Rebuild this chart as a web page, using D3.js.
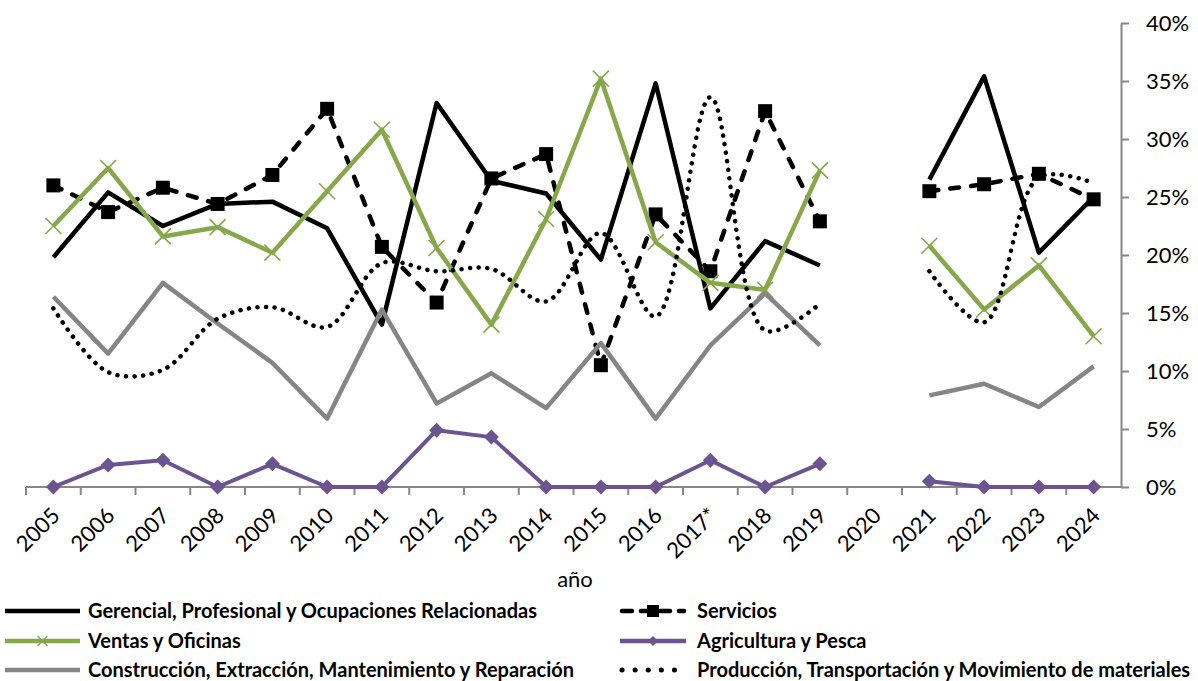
<!DOCTYPE html>
<html>
<head>
<meta charset="utf-8">
<script src="https://cdn.jsdelivr.net/npm/d3@7"></script>
<style>
  body { margin: 0; background: #fff; }
  text { font-family: Lato, "Open Sans", sans-serif; }
</style>
</head>
<body>
<div id="chart"></div>
<script>
// years on the x axis (2020 has no data)
const years = ['2005', '2006', '2007', '2008', '2009', '2010', '2011', '2012', '2013', '2014',
    '2015', '2016', '2017*', '2018', '2019', '2020', '2021', '2022', '2023', '2024'];

const yTicks = [0, 5, 10, 15, 20, 25, 30, 35, 40];

// percent values, null = no data
const gerencial = [19.8, 25.4, 22.5, 24.4, 24.6, 22.3, 14.0, 33.1, 26.4, 25.3,
    19.6, 34.8, 15.4, 21.2, 19.1, null, 26.5, 35.4, 20.2, 25.0];
const servicios = [26.0, 23.7, 25.8, 24.4, 26.9, 32.6, 20.7, 15.9, 26.6, 28.7,
    10.5, 23.5, 18.6, 32.4, 22.9, null, 25.5, 26.1, 27.0, 24.8];
const ventas = [22.5, 27.5, 21.6, 22.4, 20.2, 25.5, 30.8, 20.6, 14.0, 23.1,
    35.2, 21.1, 17.6, 17.0, 27.3, null, 20.8, 15.3, 19.1, 13.0];
const agricultura = [0, 1.9, 2.3, 0, 2.0, 0, 0, 4.9, 4.3, 0,
    0, 0, 2.3, 0, 2.0, null, 0.5, 0, 0, 0];
const construccion = [16.4, 11.5, 17.6, 14.1, 10.7, 5.9, 15.3, 7.2, 9.8, 6.8,
    12.4, 5.9, 12.2, 16.7, 12.2, null, 7.9, 8.9, 6.9, 10.4];
const produccion = [15.4, 9.9, 10.1, 14.5, 15.5, 13.8, 19.3, 18.6, 18.8, 16.0,
    21.9, 14.7, 33.6, 13.5, 15.8, null, 18.6, 14.2, 26.7, 26.2];

const series = [
    { name: 'Gerencial, Profesional y Ocupaciones Relacionadas', values: gerencial, color: '#000000', width: 4.5, dash: null, legendDash: null, marker: null, smooth: false },
    { name: 'Servicios', values: servicios, color: '#000000', width: 4.5, dash: '9,12', legendDash: '10,9', marker: 'square', smooth: false },
    { name: 'Ventas y Oficinas', values: ventas, color: '#86a84a', width: 4.5, dash: null, legendDash: null, marker: 'x', smooth: false },
    { name: 'Agricultura y Pesca', values: agricultura, color: '#6b548f', width: 4, dash: null, legendDash: null, marker: 'diamond', smooth: false },
    { name: 'Construcción, Extracción, Mantenimiento y Reparación', values: construccion, color: '#858585', width: 4.5, dash: null, legendDash: null, marker: null, smooth: false },
    { name: 'Producción, Transportación y Movimiento de materiales', values: produccion, color: '#000000', width: 4.5, dash: '0.1,8.5', legendDash: '0.1,13', marker: null, smooth: true }
];

const width = 1198, height = 681;
const plot = { left: 26, right: 1121, top: 23, bottom: 487 };

const svg = d3.select('#chart')
    .append('svg')
    .attr('width', width)
    .attr('height', height);

const x = d3.scaleBand()
    .domain(years)
    .range([plot.left, plot.right])
    .padding(0);

const y = d3.scaleLinear()
    .domain([0, 40])
    .range([plot.bottom, plot.top]);

const cx = d => x(d) + x.bandwidth() / 2;

// right y axis
const yAxis = svg.append('g')
    .attr('transform', `translate(${plot.right},0)`)
    .call(d3.axisRight(y).tickValues(yTicks).tickSizeInner(8).tickSizeOuter(0).tickPadding(17).tickFormat(d => d + '%'));
yAxis.select('.domain').attr('stroke', '#878787').attr('stroke-width', 2);
yAxis.selectAll('.tick line').attr('stroke', '#878787').attr('stroke-width', 2);
yAxis.selectAll('.tick text').attr('font-size', 22).attr('fill', '#000').attr('font-family', 'Lato');

// bottom axis line + ticks between categories
svg.append('line')
    .attr('x1', plot.left).attr('x2', plot.right)
    .attr('y1', plot.bottom).attr('y2', plot.bottom)
    .attr('stroke', '#878787').attr('stroke-width', 2);

svg.selectAll('.xtick')
    .data(years)
    .enter()
    .append('line')
    .attr('class', 'xtick')
    .attr('x1', d => x(d)).attr('x2', d => x(d))
    .attr('y1', plot.bottom).attr('y2', plot.bottom + 8)
    .attr('stroke', '#878787').attr('stroke-width', 2);

svg.selectAll('.xlabel')
    .data(years)
    .enter()
    .append('text')
    .attr('class', 'xlabel')
    .attr('transform', d => `translate(${cx(d) + 8},${plot.bottom + 30}) rotate(-45)`)
    .attr('text-anchor', 'end')
    .attr('font-size', 22)
    .text(d => d);

svg.append('text')
    .attr('x', 575)
    .attr('y', 587)
    .attr('text-anchor', 'middle')
    .attr('font-size', 22)
    .text('año');

function markerPath(type, r) {
    if (type === 'square') return `M${-r},${-r}H${r}V${r}H${-r}Z`;
    if (type === 'diamond') return `M0,${-r}L${r},0L0,${r}L${-r},0Z`;
    return `M${-r},${-r}L${r},${r}M${-r},${r}L${r},${-r}`;
}

// lines
series.forEach(s => {
    const pts = years.map((yr, i) => ({ yr: yr, v: s.values[i] }));

    const line = d3.line()
        .defined(d => d.v !== null)
        .x(d => cx(d.yr))
        .y(d => y(d.v))
        .curve(s.smooth ? d3.curveCatmullRom.alpha(0.5) : d3.curveLinear);

    svg.append('path')
        .datum(pts)
        .attr('d', line)
        .attr('fill', 'none')
        .attr('stroke', s.color)
        .attr('stroke-width', s.width)
        .attr('stroke-dasharray', s.dash)
        .attr('stroke-linecap', s.dash ? 'round' : 'butt')
        .attr('stroke-linejoin', 'round');

    if (s.marker) {
        const r = s.marker === 'diamond' ? 7.5 : (s.marker === 'x' ? 8 : 7);
        svg.selectAll(null)
            .data(pts.filter(d => d.v !== null))
            .enter()
            .append('path')
            .attr('transform', d => `translate(${cx(d.yr)},${y(d.v)})`)
            .attr('d', markerPath(s.marker, r))
            .attr('fill', s.marker === 'x' ? 'none' : s.color)
            .attr('stroke', s.color)
            .attr('stroke-width', s.marker === 'x' ? 1.6 : 0);
    }
});

// legend
const legendPos = [
    { x: 5, y: 611 }, { x: 620, y: 611 },
    { x: 5, y: 641 }, { x: 620, y: 641 },
    { x: 5, y: 670 }, { x: 620, y: 670 }
];

series.forEach((s, i) => {
    const p = legendPos[i];
    const g = svg.append('g').attr('transform', `translate(${p.x},${p.y})`);
    const len = i % 2 === 0 ? 75 : 66;
    g.append('line')
        .attr('x1', s.legendDash ? 2 : 0).attr('x2', s.legendDash ? len - 2 : len)
        .attr('y1', 0).attr('y2', 0)
        .attr('stroke', s.color)
        .attr('stroke-width', s.legendDash && s.dash.startsWith('0') ? 5 : 4.5)
        .attr('stroke-dasharray', s.legendDash)
        .attr('stroke-linecap', s.legendDash ? 'round' : 'butt');
    if (s.marker) {
        g.append('path')
            .attr('transform', `translate(${len / 2},0)`)
            .attr('d', markerPath(s.marker, s.marker === 'square' ? 6 : 5))
            .attr('fill', s.marker === 'x' ? 'none' : s.color)
            .attr('stroke', s.color)
            .attr('stroke-width', s.marker === 'x' ? 1.4 : 0);
    }
    g.append('text')
        .attr('x', i % 2 === 0 ? 83 : 77)
        .attr('y', 7)
        .attr('font-size', 20)
        .attr('font-weight', 'bold')
        .text(s.name);
});
</script>
</body>
</html>
